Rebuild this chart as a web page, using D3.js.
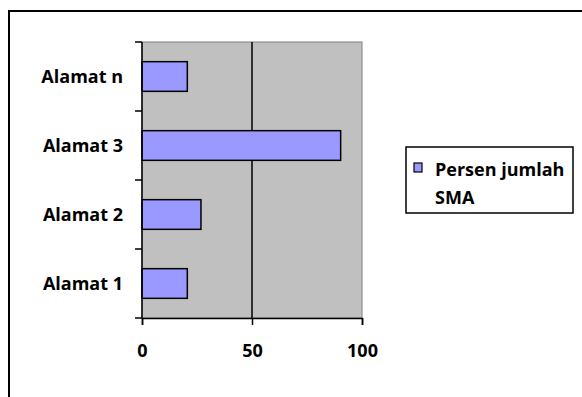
<!DOCTYPE html>
<html>
<head>
<meta charset="utf-8">
<script src="https://cdn.jsdelivr.net/npm/d3@7"></script>
<style>
  html, body { margin: 0; padding: 0; background: #fff; }
  svg { display: block; }
  text { font-family: "Open Sans", Lato, sans-serif; font-weight: bold; fill: #000; }
</style>
</head>
<body>
<svg id="chart" width="582" height="397"></svg>
<script>
// Categories listed bottom to top as they appear on the axis
const categories = ["Alamat 1", "Alamat 2", "Alamat 3", "Alamat n"];
const values = [20.6, 26.8, 90.3, 20.6];
const xTicks = [0, 50, 100];
const seriesName = ["Persen jumlah", "SMA"];

const FONT = "'Open Sans', Lato, sans-serif";
const FS = 18;

const svg = d3.select("#chart");

// Outer chart frame (top and left edges visible)
svg.append("path")
  .attr("d", "M9,397 V11 H582")
  .attr("fill", "none")
  .attr("stroke", "#000")
  .attr("stroke-width", 2);

const plot = { left: 142, top: 42, right: 362, bottom: 318 };

const x = d3.scaleLinear().domain([0, 100]).range([plot.left, plot.right]);
const y = d3.scaleBand().domain(categories.slice().reverse())
  .range([plot.top, plot.bottom]).paddingInner(0.57).paddingOuter(0.285);
const yTicks = d3.scaleBand().domain(categories.slice().reverse())
  .range([plot.top, plot.bottom]);

// Plot area background
svg.append("rect")
  .attr("x", plot.left).attr("y", plot.top)
  .attr("width", plot.right - plot.left).attr("height", plot.bottom - plot.top)
  .attr("fill", "#C0C0C0")
  .attr("stroke", "#808080").attr("stroke-width", 1);

// Vertical gridlines
svg.append("g").selectAll("line")
  .data(xTicks.filter(t => t > 0 && t < 100))
  .join("line")
  .attr("x1", d => x(d)).attr("x2", d => x(d))
  .attr("y1", plot.top).attr("y2", plot.bottom)
  .attr("stroke", "#000").attr("stroke-width", 1.5);

// Bars
svg.append("g").selectAll("rect")
  .data(categories)
  .join("rect")
  .attr("x", x(0))
  .attr("y", (d) => y(d))
  .attr("width", (d, i) => x(values[i]) - x(0))
  .attr("height", y.bandwidth())
  .attr("fill", "#9999FF")
  .attr("stroke", "#000").attr("stroke-width", 1.5);

// Category axis
const yAxis = svg.append("g")
  .attr("transform", `translate(${plot.left},0)`);
yAxis.append("line")
  .attr("x1", 0).attr("x2", 0).attr("y1", plot.top).attr("y2", plot.bottom)
  .attr("stroke", "#000").attr("stroke-width", 1.5);
const bounds = categories.slice().reverse().map(c => yTicks(c)).concat([plot.bottom]);
yAxis.selectAll("line.tick")
  .data(bounds)
  .join("line").attr("class", "tick")
  .attr("x1", -7).attr("x2", 0)
  .attr("y1", d => d).attr("y2", d => d)
  .attr("stroke", "#000").attr("stroke-width", 1.5);
yAxis.selectAll("text")
  .data(categories)
  .join("text")
  .attr("x", -19)
  .attr("y", d => yTicks(d) + yTicks.bandwidth() / 2)
  .attr("dy", "0.35em")
  .attr("text-anchor", "end")
  .attr("font-size", FS)
  .text(d => d);

// Value axis
const xAxis = svg.append("g")
  .attr("transform", `translate(0,${plot.bottom})`)
  .call(d3.axisBottom(x).tickValues(xTicks).tickSize(7).tickPadding(19));
xAxis.select(".domain").attr("stroke", "#000").attr("stroke-width", 1.5);
xAxis.selectAll(".tick line").attr("stroke", "#000").attr("stroke-width", 1.5);
xAxis.selectAll(".tick text")
  .attr("font-family", FONT)
  .attr("font-weight", "bold")
  .attr("font-size", FS)
  .attr("fill", "#000");

// Legend
const legend = svg.append("g");
legend.append("rect")
  .attr("x", 406).attr("y", 147).attr("width", 167).attr("height", 66)
  .attr("fill", "#fff").attr("stroke", "#000").attr("stroke-width", 1.5);
legend.append("rect")
  .attr("x", 414).attr("y", 163).attr("width", 8).attr("height", 9)
  .attr("fill", "#9999FF").attr("stroke", "#000").attr("stroke-width", 1.2);
legend.selectAll("text")
  .data(seriesName)
  .join("text")
  .attr("x", 435)
  .attr("y", (d, i) => 176 + i * 27.5)
  .attr("font-size", FS)
  .text(d => d);
</script>
</body>
</html>
